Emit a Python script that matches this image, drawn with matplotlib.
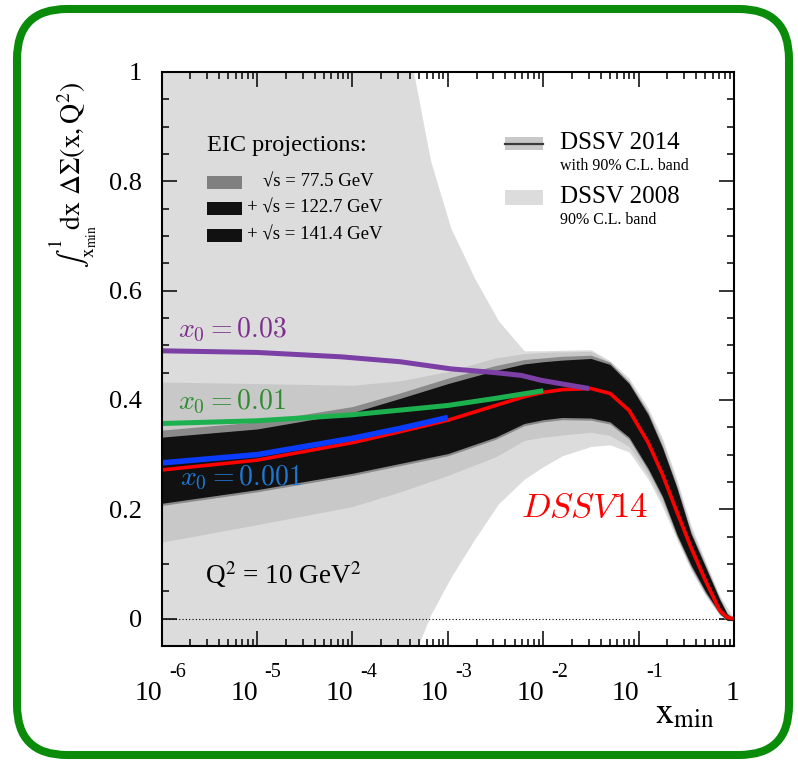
import numpy as np
import matplotlib
matplotlib.use('Agg')
import matplotlib.pyplot as plt
from matplotlib.patches import FancyBboxPatch, Rectangle
from matplotlib.transforms import IdentityTransform
from matplotlib.lines import Line2D

plt.rcParams['font.family'] = ['Liberation Serif', 'DejaVu Serif']
plt.rcParams['mathtext.fontset'] = 'stix'

W, H = 798, 764

# ---------------- data (log10 x grid) ----------------
lx_band = [-6, -5, -4, -3.5, -3, -2.5, -2.2, -2.0, -1.8, -1.5, -1.3, -1.1,
           -0.9, -0.75, -0.6, -0.45, -0.3, -0.15, -0.07, 0]
dssv14_top = [0.433, 0.430, 0.427, 0.435, 0.452, 0.477, 0.485, 0.487, 0.488, 0.489,
              0.469, 0.435, 0.380, 0.325, 0.250, 0.165, 0.102, 0.040, 0.012, 0.0]
dssv14_bot = [0.140, 0.172, 0.205, 0.232, 0.262, 0.296, 0.326, 0.332, 0.336, 0.341,
              0.335, 0.315, 0.262, 0.212, 0.150, 0.092, 0.045, 0.008, -0.004, -0.004]
eic77_top = [0.345, 0.360, 0.388, 0.413, 0.440, 0.463, 0.474, 0.477, 0.480, 0.482,
             0.469, 0.433, 0.377, 0.316, 0.243, 0.158, 0.098, 0.037, 0.010, 0.0]
eic77_bot = [0.207, 0.232, 0.262, 0.280, 0.298, 0.328, 0.353, 0.360, 0.364, 0.363,
             0.356, 0.328, 0.271, 0.220, 0.151, 0.094, 0.047, 0.008, -0.003, -0.003]
eic_top = [0.332, 0.347, 0.377, 0.403, 0.430, 0.454, 0.466, 0.470, 0.473, 0.476,
           0.465, 0.430, 0.373, 0.313, 0.240, 0.155, 0.095, 0.035, 0.008, 0.0]
eic_bot = [0.211, 0.236, 0.266, 0.284, 0.302, 0.332, 0.357, 0.364, 0.368, 0.367,
           0.360, 0.332, 0.275, 0.224, 0.155, 0.098, 0.050, 0.010, -0.003, -0.003]
dssv14_central = [0.272, 0.290, 0.322, 0.342, 0.363, 0.390, 0.406, 0.414, 0.419, 0.421,
                  0.412, 0.381, 0.322, 0.264, 0.196, 0.130, 0.070, 0.015, 0.002, 0.0]

lx_08 = [-6, -3.45, -3.36, -3.18, -2.97, -2.72, -2.47, -2.2, -2.0, -1.8, -1.5, -1.3,
         -1.1, -0.9, -0.75, -0.6, -0.45, -0.3, -0.15, 0]
dssv08_top = [1.08, 1.08, 1.0, 0.837, 0.715, 0.623, 0.545, 0.490, 0.490, 0.491, 0.492,
              0.472, 0.440, 0.385, 0.330, 0.255, 0.170, 0.105, 0.042, 0.0]
dssv08_bot = [-0.2, -0.1, -0.07, 0.007, 0.075, 0.145, 0.210, 0.255, 0.278, 0.298, 0.315,
              0.318, 0.305, 0.255, 0.205, 0.145, 0.088, 0.042, 0.006, 0.0]

lx_x003 = [-6, -5, -4.12, -3.5, -2.97, -2.5, -2.23, -2.02, -1.52]
x003 = [0.490, 0.487, 0.479, 0.470, 0.457, 0.450, 0.445, 0.436, 0.421]
lx_x001 = [-6, -5, -4, -3, -2.5, -2.0]
x001 = [0.357, 0.362, 0.373, 0.390, 0.403, 0.417]
lx_x0001 = [-6, -5, -4, -3.5, -3.0]
x0001 = [0.285, 0.300, 0.330, 0.348, 0.368]

xtick_vals = [1e-6, 1e-5, 1e-4, 1e-3, 1e-2, 1e-1, 1]
xtick_base = ['10', '10', '10', '10', '10', '10', '1']
xtick_exp = ['-6', '-5', '-4', '-3', '-2', '-1', '']
ytick_vals = [0, 0.2, 0.4, 0.6, 0.8, 1.0]
ytick_labels = ['0', '0.2', '0.4', '0.6', '0.8', '1']

# ---------------- figure ----------------
fig = plt.figure(figsize=(W / 100, H / 100), dpi=100)
fig.patch.set_facecolor('white')

def fx(px):
    return px / W

def fy(py):
    return 1 - py / H

# green rounded frame (pixel coords)
frame = FancyBboxPatch((17, H - 755), 789 - 17, 755 - 9,
                       boxstyle="round,pad=0,rounding_size=50",
                       transform=IdentityTransform(), facecolor='white',
                       edgecolor='#0a8c0a', linewidth=5.8, zorder=-5)
fig.patches.append(frame)

ax = fig.add_axes([fx(161.7), fy(646), fx(734) - fx(161.7), fy(72) - fy(646)])
ax.set_zorder(1)
ax.set_facecolor('none')
ax.set_xscale('log')
ax.set_xlim(1e-6, 1)
ax.set_ylim(-0.05, 1.0)

xb = 10 ** np.array(lx_band)
x08 = 10 ** np.array(lx_08)
ax.fill_between(x08, dssv08_bot, dssv08_top, color='#dcdcdc', lw=0, zorder=1)
ax.fill_between(xb, dssv14_bot, dssv14_top, color='#c8c8c8', lw=0, zorder=2)
ax.fill_between(xb, eic77_bot, eic77_top, color='#8a8a8a', lw=0, zorder=3)
ax.fill_between(xb, eic_bot, eic_top, color='#111111', lw=0, zorder=4)

ax.axhline(0, color='black', lw=0.8, ls=(0, (1, 2)), zorder=3.5)

ax.plot(xb, dssv14_central, color='#ff0000', lw=2.6, zorder=6, solid_capstyle='butt')
ax.plot(10 ** np.array(lx_x0001), x0001, color='#0a3cff', lw=4.0, zorder=7, solid_capstyle='butt')
ax.plot(10 ** np.array(lx_x001), x001, color='#1db04f', lw=3.6, zorder=7, solid_capstyle='butt')
ax.plot(10 ** np.array(lx_x003), x003, color='#7b3fa6', lw=3.6, zorder=7, solid_capstyle='butt')

# ticks
ax.set_xticks(xtick_vals)
ax.set_xticklabels([''] * len(xtick_vals))
ax.set_yticks(ytick_vals)
ax.set_yticklabels(ytick_labels)
ax.yaxis.set_minor_locator(matplotlib.ticker.MultipleLocator(0.05))
ax.xaxis.set_minor_locator(matplotlib.ticker.LogLocator(base=10, subs=np.arange(2, 10), numticks=20))
ax.xaxis.set_minor_formatter(matplotlib.ticker.NullFormatter())
ax.tick_params(which='both', direction='in', top=True, right=True, width=1.1, color='black')
ax.tick_params(which='major', length=11)
ax.tick_params(which='minor', length=5)
ax.tick_params(axis='y', which='major', labelsize=19, pad=14)
for s in ax.spines.values():
    s.set_linewidth(1.5)
    s.set_zorder(10)

# x tick labels: "10" with a raised exponent
for v, b, e in zip(xtick_vals, xtick_base, xtick_exp):
    if e:
        ax.annotate(b, xy=(v, 0), xycoords=('data', 'axes fraction'), xytext=(-13, -54),
                    textcoords='offset pixels', ha='center', va='baseline', fontsize=20,
                    annotation_clip=False)
        ax.annotate(e, xy=(v, 0), xycoords=('data', 'axes fraction'), xytext=(16, -31),
                    textcoords='offset pixels', ha='center', va='baseline', fontsize=14.5,
                    annotation_clip=False)
    else:
        ax.annotate(b, xy=(v, 0), xycoords=('data', 'axes fraction'), xytext=(-1, -54),
                    textcoords='offset pixels', ha='center', va='baseline', fontsize=20,
                    annotation_clip=False)

# axis labels
fig.text(fx(73), fy(175), r'$\int_{{\rm x}_{\rm min}}^{1}\!{\rm dx}\ \Delta\Sigma({\rm x,Q}^{2})$',
         rotation=90, ha='center', va='center', fontsize=20)
fig.text(fx(685), fy(715), r'${\rm x}_{\rm min}$', ha='center', va='center', fontsize=26)

# curve labels
ax_text_kw = dict(ha='left', va='center', math_fontfamily='cm')
fig.text(fx(178), fy(330), r'$x_0 = 0.03$', color='#7e2f8e', fontsize=20, **ax_text_kw)
fig.text(fx(178), fy(402), r'$x_0 = 0.01$', color='#2e8b2e', fontsize=20, **ax_text_kw)
fig.text(fx(180), fy(478), r'$x_0 = 0.001$', color='#1f78d4', fontsize=20, **ax_text_kw)
fig.text(fx(521), fy(509), r'$DSSV14$', color='#ff0000', fontsize=25, **ax_text_kw)
fig.text(fx(205), fy(575), r'Q$^2$ = 10 GeV$^2$', ha='left', va='center', fontsize=19.5)

# EIC legend
fig.text(fx(207), fy(145), 'EIC projections:', ha='left', va='center', fontsize=17.5)
eic_cols = ['#808080', '#111111', '#111111']
eic_labels = ['\u221as = 77.5 GeV', '+ \u221as = 122.7 GeV', '+ \u221as = 141.4 GeV']
eic_text_x = [263, 247, 247]
eic_y = [182, 208, 235]
for c, lab, tx, yy in zip(eic_cols, eic_labels, eic_text_x, eic_y):
    fig.patches.append(Rectangle((fx(207), fy(yy + 6.5)), fx(242) - fx(207), 13 / H,
                                 transform=fig.transFigure, facecolor=c, edgecolor='none', zorder=20))
    fig.text(fx(tx), fy(yy), lab, ha='left', va='center', fontsize=13.5)

# DSSV legend
fig.patches.append(Rectangle((fx(505), fy(150)), fx(543) - fx(505), 13 / H,
                             transform=fig.transFigure, facecolor='#c8c8c8', edgecolor='none', zorder=20))
fig.lines.append(Line2D([fx(505), fx(543)], [fy(143.5), fy(143.5)], transform=fig.transFigure,
                        color='#3a3a3a', lw=1.6, zorder=21))
fig.patches.append(Rectangle((fx(505), fy(205)), fx(543) - fx(505), 15 / H,
                             transform=fig.transFigure, facecolor='#dcdcdc', edgecolor='none', zorder=20))
fig.text(fx(560), fy(143), 'DSSV 2014', ha='left', va='center', fontsize=18)
fig.text(fx(560), fy(166), 'with 90% C.L. band', ha='left', va='center', fontsize=11.5)
fig.text(fx(560), fy(197), 'DSSV 2008', ha='left', va='center', fontsize=18)
fig.text(fx(560), fy(220), '90% C.L. band', ha='left', va='center', fontsize=11.5)

fig.savefig('out.png', dpi=100)
